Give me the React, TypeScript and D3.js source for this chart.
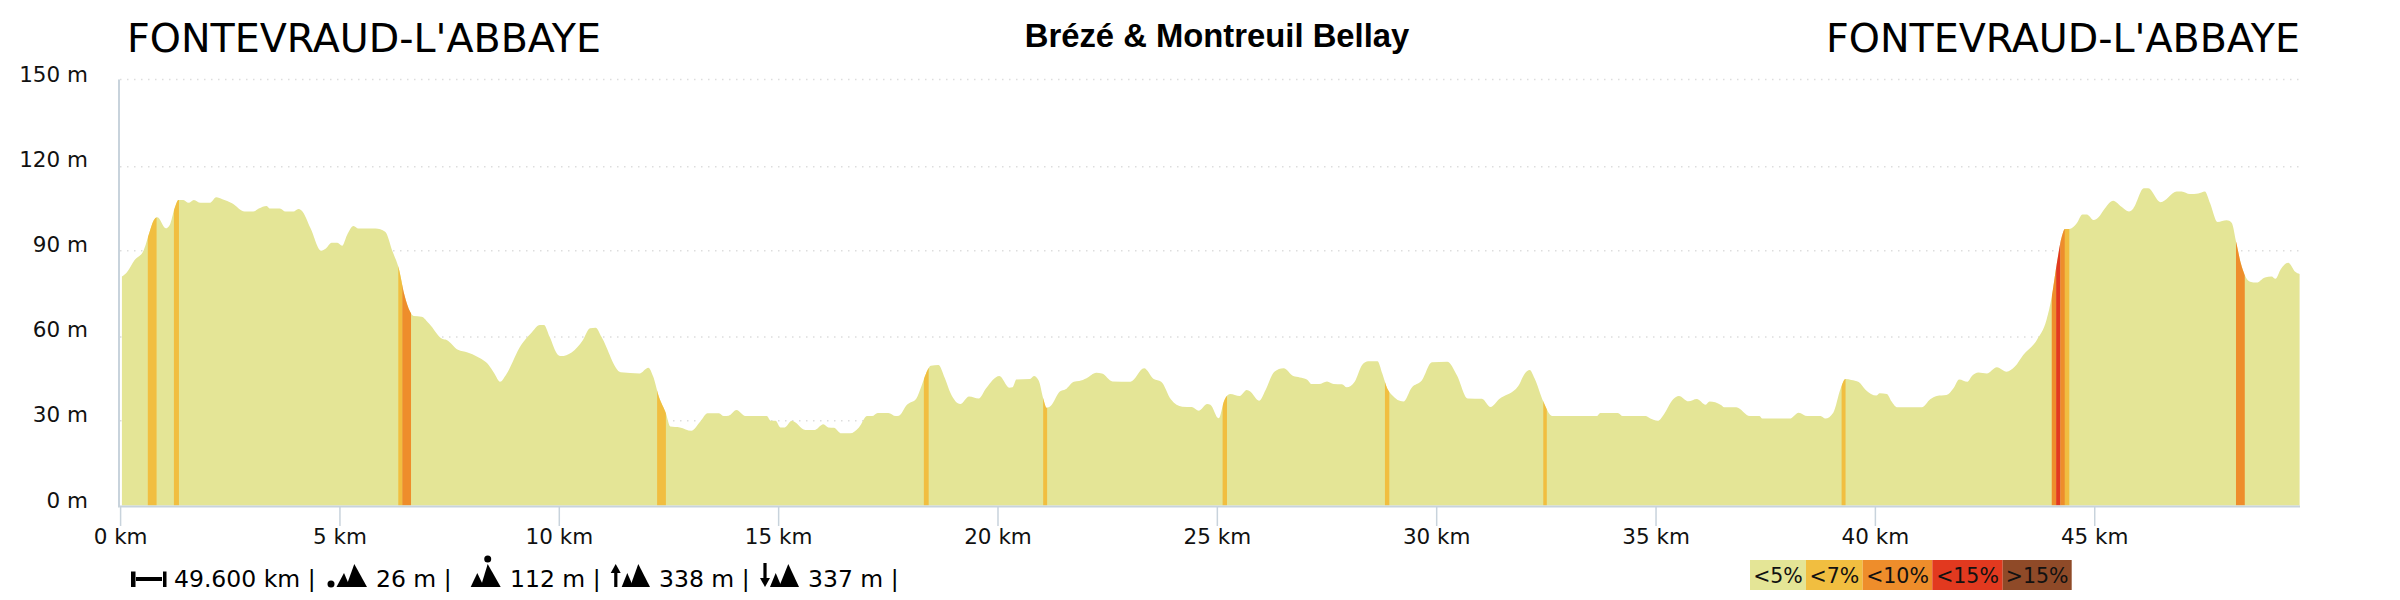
import React from "react";
import * as d3 from "d3";

const distanceKm = [
  0.03, 0.14, 0.32, 0.53, 0.65, 0.75, 0.84, 1.03, 1.12, 1.23, 1.32, 1.43, 1.55, 1.67, 1.82, 2.04, 2.18, 2.32, 2.54, 2.83,
  3.02, 3.15, 3.33, 3.4, 3.63, 3.76, 3.94, 4.05, 4.13, 4.33, 4.57, 4.68, 4.81, 4.94, 5.05, 5.16, 5.31, 5.42, 5.81, 6.03,
  6.2, 6.34, 6.47, 6.6, 6.68, 6.86, 7.03, 7.34, 7.43, 7.69, 7.91, 8.13, 8.39, 8.52, 8.65, 8.78, 9.13, 9.35, 9.56, 9.65,
  9.78, 9.96, 10.04, 10.28, 10.54, 10.7, 10.83, 10.96, 11.4, 11.83, 12.03, 12.14, 12.27, 12.43, 12.53, 12.75, 13.01, 13.21,
  13.38, 13.64, 13.75, 13.86, 14.04, 14.24, 14.73, 14.82, 14.93, 15.04, 15.14, 15.3, 15.61, 15.82, 16.02, 16.13, 16.26,
  16.43, 16.63, 16.83, 17.02, 17.13, 17.26, 17.5, 17.67, 17.74, 17.92, 18.14, 18.25, 18.36, 18.47, 18.64, 18.79, 18.92,
  19.14, 19.34, 19.56, 19.73, 20.03, 20.26, 20.33, 20.42, 20.73, 20.82, 20.93, 21.03, 21.11, 21.2, 21.41, 21.54, 21.73,
  21.85, 22.02, 22.24, 22.37, 22.61, 23.02, 23.33, 23.55, 23.72, 23.94, 24.2, 24.42, 24.58, 24.77, 24.84, 25.03, 25.16,
  25.29, 25.51, 25.67, 25.75, 25.95, 26.1, 26.3, 26.51, 26.73, 26.88, 27.04, 27.15, 27.32, 27.5, 27.65, 27.84, 27.95,
  28.13, 28.3, 28.44, 28.65, 28.76, 28.87, 28.98, 29.24, 29.43, 29.66, 29.89, 30.24, 30.46, 30.71, 31.03, 31.23, 31.42,
  31.86, 32.01, 32.12, 32.23, 32.43, 32.63, 33.65, 33.73, 34.13, 34.24, 34.76, 34.87, 35.04, 35.17, 35.39, 35.52, 35.74,
  35.93, 36.13, 36.22, 36.48, 36.55, 36.83, 37.14, 37.36, 37.42, 38.05, 38.25, 38.45, 38.75, 38.86, 39.04, 39.21, 39.32,
  39.45, 39.62, 39.78, 40.02, 40.1, 40.26, 40.37, 40.49, 41.06, 41.25, 41.4, 41.62, 41.78, 41.91, 42.1, 42.2, 42.35, 42.54,
  42.77, 42.99, 43.18, 43.37, 43.68, 43.9, 44.02, 44.13, 44.25, 44.32, 44.42, 44.59, 44.72, 44.82, 44.98, 45.08, 45.23,
  45.42, 45.61, 45.78, 45.88, 46.12, 46.22, 46.5, 46.87, 46.98, 47.17, 47.36, 47.51, 47.63, 47.8, 48.01, 48.12, 48.23,
  48.33, 48.42, 48.54, 48.69, 48.88, 49.03, 49.12, 49.24, 49.41, 49.57, 49.67,
];

const elevationM = [
  80.6, 82, 86.4, 90, 95.8, 100.3, 101.5, 97.6, 98.8, 104.6, 107.6, 107.6, 106.6, 107.6, 106.6, 106.6, 108.5, 107.8, 106.4, 103.5,
  103.5, 104.6, 105.5, 104.6, 104.6, 103.5, 103.5, 104.4, 103.8, 97.6, 89.7, 90.5, 92.5, 92.5, 91.5, 95.2, 98.4, 97.5, 97.5, 96.4,
  89.4, 83.5, 74.1, 68.2, 66.7, 66.5, 64.1, 58.6, 58.3, 54.8, 53.9, 52.4, 49.5, 46.5, 43.6, 45.9, 56.5, 60.6, 63.6, 63.6,
  59.4, 53.2, 52.6, 53.9, 58.3, 62.4, 62.6, 59.4, 46.9, 46.5, 48.5, 45.4, 38.3, 32.5, 27.8, 27.5, 26.3, 29.5,
  32.5, 32.5, 31.5, 31.6, 33.6, 31.5, 31.5, 29.8, 29.8, 27.5, 27.5, 29.8, 26.6, 26.6, 28.6, 27.5, 27.4,
  25.4, 25.4, 27.5, 31.5, 31.5, 32.6, 32.6, 31.5, 31.6, 35.4, 37.7, 41.8, 46.5, 49.2, 49.5, 44.8, 39.5,
  35.7, 38.4, 37.7, 41.3, 45.6, 41.5, 41.6, 44.4, 44.5, 45.6, 43.9, 37.7, 34.4, 35, 40.1, 40.9, 43.6,
  43.8, 44.8, 46.7, 46.5, 43.7, 43.6, 48.3, 44.5, 43.6, 37.4, 34.8, 34.7, 33.4, 35.7, 35.5, 30.7, 37.1,
  39.3, 38.6, 40.7, 40.1, 36.9, 40.7, 47.1, 48.3, 45.6, 45.1, 44.4, 42.8, 42.8, 43.7, 42.8, 42.7, 41.6,
  43.6, 49.5, 50.8, 50.8, 46.5, 41.3, 38.9, 36.6, 41.5, 44, 50.4, 50.6, 45.9, 37.7, 37.6, 34.7, 37.4,
  42.1, 46.5, 47.7, 44.8, 36.6, 31.5, 31.5, 32.6, 32.6, 31.5, 31.5, 30.6, 29.8, 31.9, 37.4, 38.6, 36.7,
  37.5, 35.5, 36.6, 35.4, 34.6, 34.6, 31.5, 31.5, 30.6, 30.6, 32.7, 31.5, 31.5, 30.6, 32.7, 41.3, 44.5,
  44.2, 43.5, 40.7, 38.7, 39.5, 39.3, 36.6, 34.6, 34.6, 37.4, 38.6, 38.9, 41.3, 44.4, 43.6, 45.6, 46.8, 46.5,
  48.7, 47.1, 48.9, 53, 58.3, 65.3, 73.5, 84.7, 94.7, 97.4, 97.4, 99.4, 102.5, 102.5, 100.5, 101.4, 104.6,
  107.3, 105.2, 103.5, 104.6, 111.7, 111.7, 106.8, 110.6, 110.6, 109.7, 109.9, 110.6, 106.4, 99.8, 100.4, 99.6, 92.3,
  85.3, 81.2, 78.8, 78.5, 80.3, 80.6, 79.8, 83.2, 85.5, 82.3, 81.5,
];

const bandStartKm = [0.62, 1.215, 6.33, 6.42, 12.23, 18.31, 21.03, 25.12, 28.82, 32.43, 39.23, 44.02, 44.12, 44.22, 44.32, 48.22];
const bandEndKm = [0.82, 1.33, 6.42, 6.62, 12.43, 18.42, 21.12, 25.22, 28.92, 32.51, 39.32, 44.12, 44.22, 44.32, 44.42, 48.42];
const bandClass = [1, 1, 1, 2, 1, 1, 1, 1, 1, 1, 1, 2, 3, 2, 1, 2];

const slopeLabels = ["<5%", "<7%", "<10%", "<15%", ">15%"];
const slopeColors = ["#E4E596", "#F1BE40", "#EE8D2B", "#E2391F", "#8F4A28"];
const legendEdges = [1750, 1806, 1862.7, 1932.3, 2002.7, 2071.7];

const yTicks = [0, 30, 60, 90, 120, 150];
const xTicks = [0, 5, 10, 15, 20, 25, 30, 35, 40, 45];
const startTitle = "FONTEVRAUD-L'ABBAYE";
const endTitle = "FONTEVRAUD-L'ABBAYE";
const mainTitle = "Brézé & Montreuil Bellay";

const statTexts = ["49.600 km |", "26 m |", "112 m |", "338 m |", "337 m |"];
const statX = [174, 376, 510, 659, 808];

const AXIS = "#C8D3DC";
const GRID = "#DDDDDD";
const SANS = "'DejaVu Sans'";

function tri(x0: number, apex: number, x1: number, top: number, base = 587) {
  return `M${x0},${base}L${apex},${top}L${x1},${base}Z`;
}

function Icons() {
  return (
    <g fill="#000" stroke="none">
      <rect x={131} y={571.5} width={4.5} height={15.5} />
      <rect x={136} y={577} width={26} height={4} />
      <rect x={163} y={571.5} width={3.5} height={15.5} />

      <circle cx={331} cy={584} r={3.5} />
      <path d={tri(336.5, 344, 350, 573)} />
      <path d={tri(346, 354.3, 367, 564)} />

      <circle cx={487.7} cy={559} r={3.5} />
      <path d={tri(470.7, 477.3, 484, 573)} />
      <path d={tri(480.7, 487.7, 500.7, 564)} />

      <path d="M610.7,573L615.7,564L620.7,573Z" />
      <rect x={614.2} y={572} width={3.2} height={15} />
      <path d={tri(621.7, 627.3, 633.3, 573)} />
      <path d={tri(630, 638.3, 650, 564)} />

      <rect x={763.4} y={563} width={3.2} height={16} />
      <path d="M760,578L765,587L770,578Z" />
      <path d={tri(770, 775.7, 781.7, 573)} />
      <path d={tri(779, 788.3, 799, 564)} />
    </g>
  );
}

export default function App() {
  const xScale = d3.scaleLinear().domain([0, 49.67]).range([120.6, 2299.6]);
  const yScale = d3.scaleLinear().domain([0, 150]).range([505.5, 79.5]);
  const gridScale = d3.scaleLinear().domain(yTicks).range([505.5, 420.7, 337, 250.7, 166.7, 79.5]);
  const points = distanceKm.map((k, i) => [k, elevationM[i]] as [number, number]);
  const area = d3
    .area<[number, number]>()
    .x((d) => xScale(d[0]))
    .y0(yScale(0))
    .y1((d) => yScale(d[1]))
    .curve(d3.curveMonotoneX);
  const areaPath = area(points) ?? "";

  return (
    <svg
      width={2400}
      height={600}
      style={{ position: "absolute", left: 0, top: 0, background: "#fff" }}
      fontFamily={SANS}
    >
      <defs>
        <clipPath id="profile">
          <path d={areaPath} />
        </clipPath>
      </defs>

      {yTicks.slice(1).map((t) => (
        <line
          key={t}
          x1={120}
          x2={2300}
          y1={gridScale(t)}
          y2={gridScale(t)}
          stroke={GRID}
          strokeWidth={1.5}
          strokeDasharray="1.5,5.5"
        />
      ))}

      <path d={areaPath} fill={slopeColors[0]} />
      <g clipPath="url(#profile)">
        {bandStartKm.map((s, i) => (
          <rect
            key={i}
            x={xScale(s)}
            width={xScale(bandEndKm[i]) - xScale(s)}
            y={yScale(150)}
            height={yScale(0) - yScale(150)}
            fill={slopeColors[bandClass[i]]}
          />
        ))}
      </g>

      <line x1={119} x2={119} y1={yScale(150)} y2={507} stroke={AXIS} strokeWidth={2} />
      <line x1={118} x2={2300} y1={506.5} y2={506.5} stroke={AXIS} strokeWidth={2} />
      {xTicks.map((t) => (
        <g key={t}>
          <line x1={xScale(t)} x2={xScale(t)} y1={506} y2={526} stroke={AXIS} strokeWidth={1.5} />
          <text x={xScale(t)} y={544} textAnchor="middle" fontSize={21.5} fill="#111">
            {t} km
          </text>
        </g>
      ))}
      {yTicks.map((t) => (
        <text key={t} x={88} y={yScale(t) + 2} textAnchor="end" fontSize={21.5} fill="#111">
          {t} m
        </text>
      ))}

      <text x={127} y={51.5} fontSize={39.6} fill="#000">
        {startTitle}
      </text>
      <text x={2300} y={51.5} fontSize={39.6} textAnchor="end" fill="#000">
        {endTitle}
      </text>
      <text
        x={1217}
        y={46.5}
        fontSize={32.8}
        fontWeight={700}
        textAnchor="middle"
        fontFamily="'Liberation Sans'"
        fill="#000"
      >
        {mainTitle}
      </text>

      <Icons />
      {statTexts.map((s, i) => (
        <text key={i} x={statX[i]} y={587} fontSize={23.5} fill="#000" xmlSpace="preserve">
          {s}
        </text>
      ))}

      {slopeLabels.map((l, i) => (
        <g key={l}>
          <rect
            x={legendEdges[i]}
            y={560}
            width={legendEdges[i + 1] - legendEdges[i]}
            height={30}
            fill={slopeColors[i]}
          />
          <text
            x={(legendEdges[i] + legendEdges[i + 1]) / 2}
            y={583}
            textAnchor="middle"
            fontSize={20.5}
            fill="#111"
          >
            {l}
          </text>
        </g>
      ))}
    </svg>
  );
}
